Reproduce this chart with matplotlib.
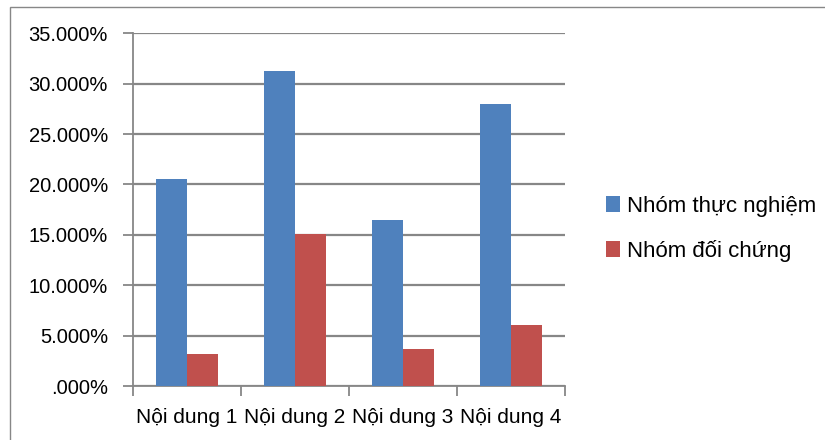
import matplotlib
matplotlib.use("Agg")
import matplotlib.pyplot as plt
import matplotlib.patches as mpatches
from matplotlib.ticker import FuncFormatter, FixedLocator
import numpy as np

plt.rcParams['font.family'] = ['Liberation Sans', 'DejaVu Sans']

categories = ["Nội dung 1", "Nội dung 2", "Nội dung 3", "Nội dung 4"]
series_names = ["Nhóm thực nghiệm", "Nhóm đối chứng"]
thuc_nghiem = [20.58, 31.24, 16.47, 28.0]
doi_chung = [3.15, 15.1, 3.65, 6.06]
colors = ["#4F81BD", "#C0504D"]
grid_gray = "#878787"

fig = plt.figure(figsize=(8.25, 4.4), dpi=100)
ax = fig.add_axes([0.1612, 0.1227, 0.5236, 0.8016])

x = np.arange(len(categories))
w = 0.287
ax.bar(x - w / 2, thuc_nghiem, w, color=colors[0], label=series_names[0], zorder=3)
ax.bar(x + w / 2, doi_chung, w, color=colors[1], label=series_names[1], zorder=3)

ax.set_xlim(-0.5, len(categories) - 0.5)
ax.set_ylim(0, 35)
ax.set_yticks(np.arange(0, 36, 5))

def pct(v, pos):
    s = "{:.3f}%".format(v)
    return s[1:] if s.startswith("0") else s

ax.yaxis.set_major_formatter(FuncFormatter(pct))
ax.yaxis.grid(True, color=grid_gray, lw=1.6, zorder=0)

# category ticks between groups, labels centred
ax.xaxis.set_major_locator(FixedLocator(np.arange(-0.5, len(categories), 1.0)))
ax.xaxis.set_minor_locator(FixedLocator(x))
ax.set_xticklabels([])
ax.set_xticklabels(categories, minor=True)
ax.tick_params(axis='x', which='minor', length=0, pad=16, labelsize=15)
ax.tick_params(axis='x', which='major', length=7, width=1.3, color=grid_gray)
ax.tick_params(axis='y', length=7, width=1.3, color=grid_gray, pad=11, labelsize=14.5)

for s in ["top", "right"]:
    ax.spines[s].set_visible(False)
for s in ["left", "bottom"]:
    ax.spines[s].set_color(grid_gray)
    ax.spines[s].set_linewidth(1.3)

fig.legend(loc="center left", bbox_to_anchor=(0.71, 0.48), frameon=False,
           fontsize=16, handlelength=0.65, handleheight=0.7, handletextpad=0.3,
           labelspacing=1.05)

# chart area border
fig.patches.append(mpatches.Rectangle((10 / 825, -0.1), 1.2, 1 - 7.5 / 440 + 0.1,
                                      transform=fig.transFigure, fill=False,
                                      edgecolor=grid_gray, lw=1.0))

fig.savefig("out.png", dpi=100)
